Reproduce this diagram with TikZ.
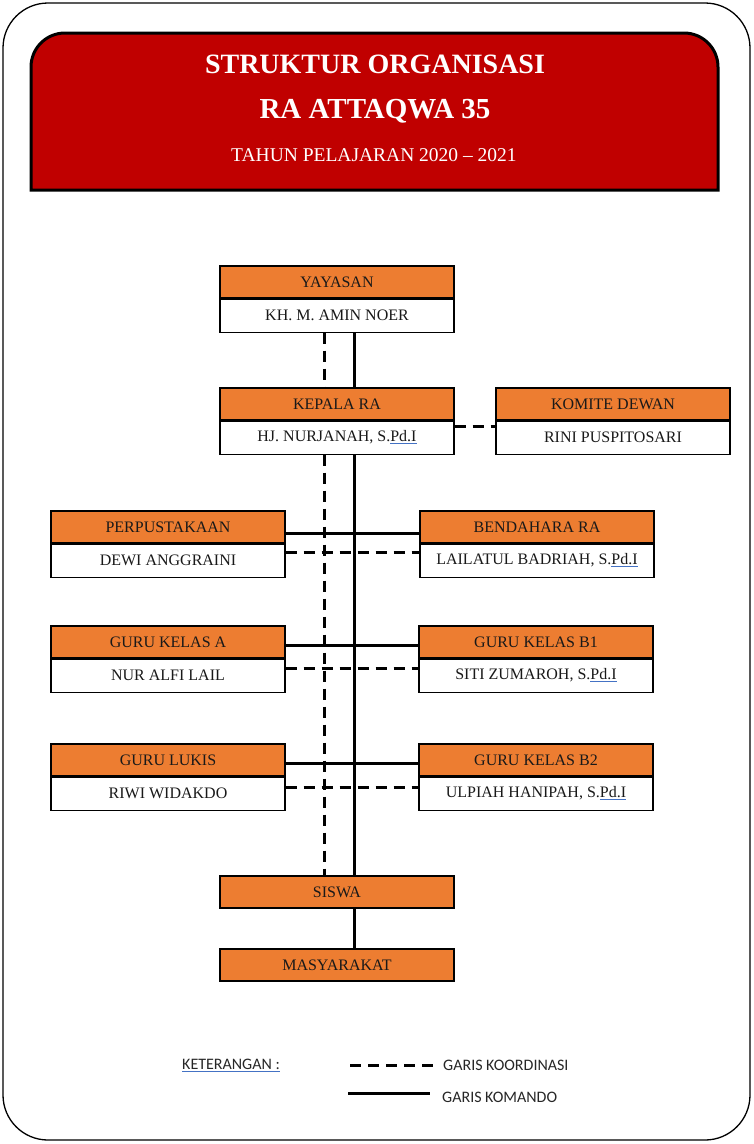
\documentclass[tikz,border=0pt]{standalone}
\usepackage{fontspec}
\setmainfont{Liberation Serif}
\newfontfamily\legfont{Carlito}
\usetikzlibrary{positioning}
\definecolor{oranye}{HTML}{ED7D31}
\definecolor{judulred}{HTML}{C00000}
\definecolor{ulblue}{HTML}{4472C4}
\newcommand{\garisbawah}[1]{\setbox0\hbox{#1}\rlap{\color{ulblue}\rule[-2.4pt]{\wd0}{0.9pt}}\box0}

\begin{document}
\begin{tikzpicture}[x=1pt,y=-1pt,
	jabatan/.style={draw,line width=1.1pt,fill=oranye,minimum width=234pt,
		minimum height=32pt,inner sep=0pt,
		font=\fontsize{16}{19}\selectfont,text=black!90},
	nama/.style={jabatan,fill=white,minimum height=33pt},
	komando/.style={line width=3pt},
	koordinasi/.style={line width=3pt,dash pattern=on 11pt off 7pt},
	legtext/.style={font=\legfont\fontsize{16}{18}\selectfont,text=black!85,inner sep=0pt}]
	\useasboundingbox (0,0) rectangle (754,1144);
	\draw[line width=1.3pt,rounded corners=45pt] (3,3) rectangle (750,1140);
	\draw[line width=3pt,fill=judulred] (31,190) [rounded corners=34pt] -- (31,33)
		-- (718,33) [sharp corners] -- (718,190) -- cycle;
	\node[text=white,font=\bfseries\fontsize{28}{32}\selectfont] (T1) at (375,64) {STRUKTUR ORGANISASI};
	\node[text=white,font=\bfseries\fontsize{29}{32}\selectfont] (T2) at (375,111) {RA ATTAQWA 35};
	\node[text=white,font=\fontsize{19.5}{22}\selectfont] (T3) at (374,155) {TAHUN PELAJARAN 2020 -- 2021};

	\node[jabatan] (Y) at (337,282) {YAYASAN};
	\node[nama,below=0pt of Y] (YN) {KH. M. AMIN NOER};
	\node[jabatan] (K) at (337,404) {KEPALA RA};
	\node[nama,below=0pt of K] (KN) {HJ. NURJANAH, S.\garisbawah{Pd.I}};
	\node[jabatan] (KD) at (613,404) {KOMITE DEWAN};
	\node[nama,below=0pt of KD] (KDN) {RINI PUSPITOSARI};
	\node[jabatan] (PP) at (168,527) {PERPUSTAKAAN};
	\node[nama,below=0pt of PP] (PPN) {DEWI ANGGRAINI};
	\node[jabatan] (BR) at (537,527) {BENDAHARA RA};
	\node[nama,below=0pt of BR] (BRN) {LAILATUL BADRIAH, S.\garisbawah{Pd.I}};
	\node[jabatan] (GA) at (168,642) {GURU KELAS A};
	\node[nama,below=0pt of GA] (GAN) {NUR ALFI LAIL};
	\node[jabatan] (GB1) at (536,642) {GURU KELAS B1};
	\node[nama,below=0pt of GB1] (GB1N) {SITI ZUMAROH, S.\garisbawah{Pd.I}};
	\node[jabatan] (GL) at (168,760) {GURU LUKIS};
	\node[nama,below=0pt of GL] (GLN) {RIWI WIDAKDO};
	\node[jabatan] (GB2) at (536,760) {GURU KELAS B2};
	\node[nama,below=0pt of GB2] (GB2N) {ULPIAH HANIPAH, S.\garisbawah{Pd.I}};
	\node[jabatan] (S) at (337,892) {SISWA};
	\node[jabatan] (M) at (337,965) {MASYARAKAT};

	\draw[komando] ([xshift=17pt]YN.south) -- ([xshift=17pt]K.north);
	\draw[koordinasi] ([xshift=-13pt]YN.south) -- ([xshift=-13pt]K.north);
	\draw[komando] ([xshift=17pt]KN.south) -- ([xshift=17pt]S.north);
	\draw[koordinasi] ([xshift=-13pt]KN.south) -- ([xshift=-13pt]S.north);
	\draw[komando] ([xshift=17pt]S.south) -- ([xshift=17pt]M.north);
	\draw[koordinasi] ([yshift=11.5pt]KN.east) -- ([yshift=11.5pt]KDN.west);
	\draw[komando] ([yshift=-6pt]PP.east) -- ([yshift=-6pt]BR.west);
	\draw[koordinasi] ([yshift=8.5pt]PPN.east) -- ([yshift=8.5pt]BRN.west);
	\draw[komando] ([yshift=-3pt]GA.east) -- ([yshift=-3pt]GB1.west);
	\draw[koordinasi] ([yshift=7.5pt]GAN.east) -- ([yshift=7.5pt]GB1N.west);
	\draw[komando] ([yshift=-3pt]GL.east) -- ([yshift=-3pt]GB2.west);
	\draw[koordinasi] ([yshift=6.5pt]GLN.east) -- ([yshift=6.5pt]GB2N.west);

	\node[legtext] (KET) at (231,1065) {\garisbawah{KETERANGAN :}};
	\coordinate (L1) at (350,1065);
	\coordinate (L2) at (433,1065);
	\node[legtext,anchor=west] (LK) at (443,1065) {GARIS KOORDINASI};
	\draw[koordinasi] (L1) -- (L2);
	\coordinate (L3) at (348,1093);
	\coordinate (L4) at (430,1093);
	\node[legtext,anchor=west] (LM) at (442,1097) {GARIS KOMANDO};
	\draw[komando] (L3) -- (L4);
\end{tikzpicture}
\end{document}
